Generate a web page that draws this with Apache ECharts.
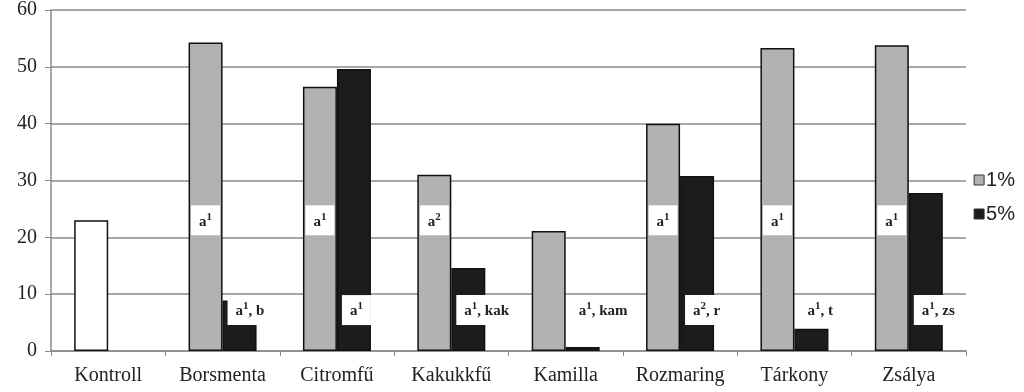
<!DOCTYPE html>
<html><head><meta charset="utf-8">
<script src="https://cdn.jsdelivr.net/npm/echarts@6/dist/echarts.min.js"></script>
<style>html,body{margin:0;padding:0;background:#fff}#c{width:1024px;height:392px}</style>
</head><body><div id="c"></div>
<script>
var categories = ['Kontroll','Borsmenta','Citromfű','Kakukkfű','Kamilla','Rozmaring','Tárkony','Zsálya'];
var values1 = [23, 54.3, 46.5, 31, 21.1, 40, 53.3, 53.8];
var values5 = [null, 8.9, 49.6, 14.6, 0.7, 30.8, 3.9, 27.8];
var labels1 = ['', 'a¹', 'a¹', 'a²', '', 'a¹', 'a¹', 'a¹'];
var labels5 = ['', 'a¹, b', 'a¹', 'a¹, kak', 'a¹, kam', 'a², r', 'a¹, t', 'a¹, zs'];
var labelY1 = 23;
var labelY5 = 7.2;
var yTicks = [0, 10, 20, 30, 40, 50, 60];

var GRAY = '#b2b2b2', DARK = '#1c1c1c', AXIS = '#8a8a8a';
var serif = '"Liberation Serif","DejaVu Serif",serif';

function labelData(labels, y) {
  return labels.map(function (t, i) { return t ? {value: [categories[i], y], name: t} : null; }).filter(Boolean);
}
function supFormat(p) {
  return p.name.replace(/¹/g, '{s|1}').replace(/²/g, '{s|2}').replace(/^a/, '{b|a}').replace(/, (.*)$/, '{b|, $1}');
}
var lblStyle = {
  show: true, formatter: supFormat, fontFamily: serif, fontWeight: 'bold', fontSize: 15, color: '#222',
  backgroundColor: '#fff', padding: [6, 8, 6, 8], lineHeight: 18,
  rich: {
    b: {fontFamily: serif, fontWeight: 'bold', fontSize: 15, color: '#222', lineHeight: 18, verticalAlign: 'bottom'},
    s: {fontFamily: serif, fontWeight: 'bold', fontSize: 11, color: '#222', lineHeight: 18, verticalAlign: 'top', padding: [0, 0, 6, 0]}
  }
};

var chart = echarts.init(document.getElementById('c'), null, {renderer: 'canvas'});
chart.setOption({
  animation: false,
  grid: {left: 51, right: 58, top: 10, bottom: 41},
  legend: {
    orient: 'vertical', right: 4, top: 165, itemWidth: 10, itemHeight: 10, itemGap: 14,
    icon: 'rect',
    data: ['1%', '5%'],
    textStyle: {fontFamily: '"Liberation Sans",Arial,sans-serif', fontSize: 20, color: '#222', padding: [0, 0, 0, -3]},
    itemStyle: {borderColor: '#333', borderWidth: 1}
  },
  xAxis: {
    type: 'category', data: categories,
    axisLine: {lineStyle: {color: AXIS, width: 1.5}},
    axisTick: {show: true, interval: 0, length: 5, lineStyle: {color: AXIS}},
    axisLabel: {interval: 0, fontFamily: serif, fontSize: 20, color: '#222', margin: 15}
  },
  yAxis: {
    type: 'value', min: yTicks[0], max: yTicks[yTicks.length - 1], interval: 10,
    axisLine: {show: true, lineStyle: {color: AXIS, width: 1.5}},
    axisTick: {show: true, length: 6, lineStyle: {color: AXIS}},
    splitLine: {lineStyle: {color: AXIS, width: 1.5}},
    axisLabel: {fontFamily: serif, fontSize: 20, color: '#222', margin: 14}
  },
  series: [
    {
      name: '1%', type: 'bar', barWidth: 34, barGap: '0%',
      itemStyle: {color: GRAY, borderColor: '#111', borderWidth: 1.5},
      data: values1.map(function (v, i) { return i === 0 ? {value: v, itemStyle: {color: '#fff'}} : v; })
    },
    {
      name: '5%', type: 'bar', barWidth: 34, barGap: '0%',
      itemStyle: {color: DARK, borderColor: '#111', borderWidth: 1.5},
      data: values5
    },
    {
      type: 'scatter', symbolSize: 0, silent: true, z: 5, itemStyle: {opacity: 1},
      label: Object.assign({}, lblStyle, {position: 'inside', offset: [-17, 0]}),
      data: labelData(labels1, labelY1)
    },
    {
      type: 'scatter', symbolSize: 0, silent: true, z: 5, itemStyle: {opacity: 1},
      label: Object.assign({}, lblStyle, {position: 'inside', align: 'left', offset: [5, 0]}),
      data: labelData(labels5, labelY5)
    }
  ]
});
</script></body></html>
